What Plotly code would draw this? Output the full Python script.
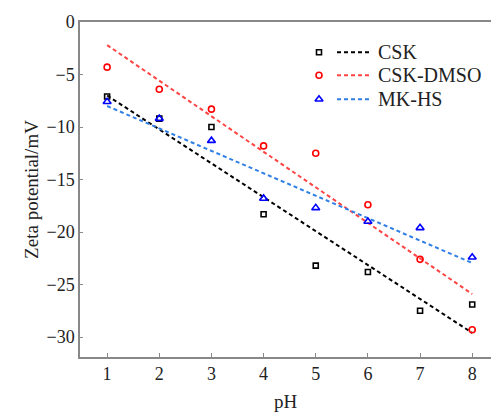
import plotly.graph_objects as go

ph = [1, 2, 3, 4, 5, 6, 7, 8]
csk = [-7.1, -9.2, -10.0, -18.3, -23.2, -23.8, -27.5, -26.9]
csk_dmso = [-4.3, -6.4, -8.3, -11.8, -12.5, -17.4, -22.6, -29.3]
mk_hs = [-7.6, -9.2, -11.3, -16.8, -17.7, -19.0, -19.6, -22.4]

fit_x = [1, 8]
csk_fit = [-7.0, -29.6]
csk_dmso_fit = [-2.2, -25.9]
mk_hs_fit = [-8.0, -22.95]

names = ["CSK", "CSK-DMSO", "MK-HS"]
series = [csk, csk_dmso, mk_hs]
fits = [csk_fit, csk_dmso_fit, mk_hs_fit]
mcol = ["#000000", "#ff0000", "#0000ff"]
lcol = ["#000000", "#ff4444", "#2f7fe6"]
syms = ["square-open", "circle-open", "triangle-up-open"]
msz = [5, 6, 7]

FONT = "Liberation Serif, Times New Roman, serif"
W, H = 491, 412
L, R, T, B = 80, 0, 21.7, 412 - 356.7

fig = go.Figure()
for i in range(3):
    fig.add_trace(go.Scatter(x=fit_x, y=fits[i], mode="lines",
                             line=dict(color=lcol[i], width=2, dash="4px,3px"),
                             showlegend=False, hoverinfo="skip"))
for i in range(3):
    fig.add_trace(go.Scatter(x=ph, y=series[i], mode="markers",
                             marker=dict(symbol=syms[i], size=msz[i], color=mcol[i],
                                         line=dict(width=1.6, color=mcol[i])),
                             name=names[i], showlegend=False))

# manual legend on a pixel-coordinate overlay axis
leg_y = [52, 75, 99]
for i in range(3):
    fig.add_trace(go.Scatter(x=[319], y=[leg_y[i]], mode="markers", xaxis="x2", yaxis="y2",
                             marker=dict(symbol=syms[i], size=msz[i], color=mcol[i],
                                         line=dict(width=1.6, color=mcol[i])),
                             showlegend=False, hoverinfo="skip"))
    fig.add_trace(go.Scatter(x=[337, 372], y=[leg_y[i], leg_y[i]], mode="lines", xaxis="x2", yaxis="y2",
                             line=dict(color=lcol[i], width=2, dash="4px,3px"),
                             showlegend=False, hoverinfo="skip"))
    fig.add_annotation(x=376, y=leg_y[i], xref="x2", yref="y2", text=names[i],
                       showarrow=False, xanchor="left", yanchor="middle",
                       font=dict(family=FONT, size=20, color="#222"))

axcol = "#888888"
fig.update_layout(
    width=W, height=H,
    margin=dict(l=L, r=R, t=T, b=B, pad=0),
    paper_bgcolor="white", plot_bgcolor="white",
    font=dict(family=FONT, size=18, color="#222"),
    xaxis=dict(range=[0.48, 8.36], tickvals=ph, ticks="inside", ticklen=4, tickcolor=axcol,
               showline=True, linecolor=axcol, linewidth=1.5, mirror=True,
               showgrid=False, zeroline=False,
               title=dict(text="pH", font=dict(size=19), standoff=12)),
    yaxis=dict(range=[-31.9, 0], tickvals=[0, -5, -10, -15, -20, -25, -30],
               ticktext=["0", "−5", "−10", "−15", "−20", "−25", "−30"],
               ticks="inside", ticklen=3, tickcolor=axcol,
               showline=True, linecolor=axcol, linewidth=1.5,
               showgrid=False, zeroline=False,
               title=dict(text="Zeta potential/mV", font=dict(size=19), standoff=3)),
    xaxis2=dict(overlaying="x", anchor="y2", range=[L, W - R], visible=False, fixedrange=True),
    yaxis2=dict(overlaying="y", anchor="x2", range=[356.7, 21.7], visible=False, fixedrange=True),
)

fig.write_html("out.html", config={"displayModeBar": False},
               post_script="document.body.style.margin='0';document.body.style.overflow='hidden';")
